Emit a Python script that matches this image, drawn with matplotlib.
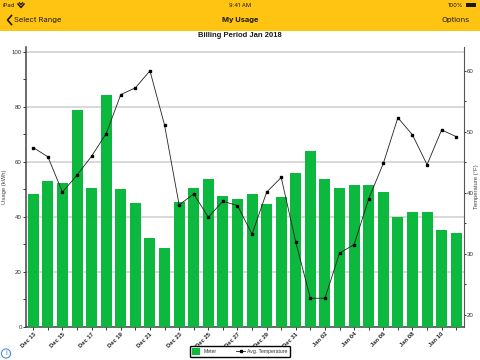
import matplotlib
matplotlib.use('Agg')
import matplotlib.pyplot as plt
from matplotlib.patches import Rectangle

plt.rcParams['font.family'] = ['Liberation Sans', 'DejaVu Sans']

# values
days = ['Dec 13', 'Dec 14', 'Dec 15', 'Dec 16', 'Dec 17', 'Dec 18', 'Dec 19', 'Dec 20', 'Dec 21', 'Dec 22',
        'Dec 23', 'Dec 24', 'Dec 25', 'Dec 26', 'Dec 27', 'Dec 28', 'Dec 29', 'Dec 30', 'Dec 31', 'Jan 01',
        'Jan 02', 'Jan 03', 'Jan 04', 'Jan 05', 'Jan 06', 'Jan 07', 'Jan 08', 'Jan 09', 'Jan 10', 'Jan 11']
usage = [48.2, 53.0, 52.3, 79.0, 50.5, 84.2, 50.1, 44.9, 32.2, 28.6,
         45.5, 50.4, 53.6, 47.6, 46.6, 48.3, 44.7, 47.1, 56.1, 64.1,
         53.8, 50.4, 51.5, 51.7, 49.1, 39.9, 41.9, 41.8, 35.1, 34.2]
temperature = [47.4, 45.9, 40.1, 42.9, 46.0, 49.7, 56.1, 57.2, 60.0, 51.1,
               38.0, 39.8, 36.0, 38.6, 37.9, 33.2, 40.1, 42.5, 31.9, 22.7,
               22.7, 30.1, 31.5, 39.0, 44.8, 52.3, 49.5, 44.6, 50.3, 49.2]
usage_ticks = [0, 20, 40, 60, 80, 100]
temp_ticks = [20, 30, 40, 50, 60]

W, H = 480, 360
fig = plt.figure(figsize=(W / 100, H / 100), dpi=100)

def px(x, y):
    # pixel position from the top left, as figure fraction
    return x / W, 1 - y / H

# header bar
fig.add_artist(Rectangle((0, 1 - 30.5 / H), 1, 30.5 / H, transform=fig.transFigure, color='#FFC312', lw=0))
hdr = dict(family=['Inter', 'DejaVu Sans'], color='#1c1a10', va='center')
fig.text(*px(3, 5.2), 'iPad', fontsize=4.3, **hdr)
fig.text(*px(240, 5.2), '9:41 AM', fontsize=4.2, ha='center', **hdr)
fig.text(*px(463, 5.2), '100%', fontsize=4.3, ha='right', **hdr)
fig.text(*px(14.5, 20), 'Select Range', fontsize=5.5, **hdr)
fig.text(*px(240, 20), 'My Usage', fontsize=5.4, ha='center', fontweight='bold', **hdr)
fig.text(*px(470, 20), 'Options', fontsize=5.5, ha='right', **hdr)
# back chevron, wifi mark, battery (pixels, y flipped)
fig.add_artist(plt.Line2D([11.5, 7.5, 11.5], [H - 15.5, H - 20, H - 24.5], color='#1c1a10', lw=1.2, transform=None))
fig.add_artist(plt.Line2D([18, 21, 24], [H - 4, H - 7.5, H - 4], color='#1c1a10', lw=1.1, transform=None))
fig.add_artist(plt.Line2D([19.5, 21, 22.5], [H - 2.8, H - 4.5, H - 2.8], color='#1c1a10', lw=0.9, transform=None))
fig.add_artist(Rectangle(px(465.5, 6.7), 10 / W, 3.4 / H, transform=fig.transFigure, color='#1c1a10', lw=0))

fig.text(*px(240, 35.5), 'Billing Period Jan 2018', fontsize=5.5, fontweight='bold', ha='center', va='center',
         color='#1a1a1a')

# plot area from spines: x 26 to 463.5, y 47 to 326.7
ax = fig.add_axes([26 / W, 1 - 326.7 / H, 437.5 / W, 279.7 / H])
x = list(range(len(days)))
bars = ax.bar(x, usage, width=0.75, color='#05B637', alpha=0.97, zorder=3, label='Meter')
ax.set_xlim(-0.5, 29.5)
ax.set_ylim(0, 101.8)
ax.set_yticks(usage_ticks)
ax.set_yticks(range(10, 100, 20), minor=True)
ax.grid(axis='y', which='major', color='#d6d6d6', lw=1.3, zorder=0)
ax.set_axisbelow(True)
ax.set_xticks(x[::2])
ax.set_xticklabels(days[::2], rotation=45, ha='right', rotation_mode='anchor', fontsize=4.2,
                   fontweight='bold', color='#222222')
ax.set_xticks(x[1::2], minor=True)
ax.tick_params(axis='x', which='both', length=2, width=0.7, pad=1.5, color='#333333')
ax.tick_params(axis='y', which='both', length=2, width=0.7, pad=1, labelsize=4.4, color='#333333',
               labelcolor='#333333')
ax.set_ylabel('Usage (kWh)', fontsize=4.2, color='#444444')
ax.yaxis.set_label_coords(-18.5 / 437.5, 0.5)
ax.spines['top'].set_visible(False)
ax.spines['right'].set_visible(False)
ax.spines['left'].set_linewidth(1.1)
ax.spines['left'].set_color('#444444')
ax.spines['bottom'].set_linewidth(1.1)
ax.spines['bottom'].set_color('#444444')

ax2 = ax.twinx()
line, = ax2.plot(x, temperature, color='#222222', lw=0.6, marker='s', ms=2, mfc='black', mec='black',
                 label='Avg. Temperature', zorder=5)
ax2.set_ylim(18.03, 63.9)
ax2.set_yticks(temp_ticks)
ax2.set_yticks(range(25, 60, 10), minor=True)
ax2.tick_params(axis='y', which='both', length=1.5, width=0.7, pad=1, labelsize=4.4, color='#333333',
                labelcolor='#333333')
ax2.set_ylabel('Temperature (°F)', fontsize=4.2, color='#444444')
ax2.yaxis.set_label_coords(1 + 10 / 437.5, 0.5)
ax2.spines['top'].set_visible(False)
ax2.spines['left'].set_visible(False)
ax2.spines['bottom'].set_visible(False)
ax2.spines['right'].set_linewidth(0.8)
ax2.spines['right'].set_color('#555555')

leg = fig.legend([bars, line], ['Meter', 'Avg. Temperature'], ncol=2, loc='center',
                 bbox_to_anchor=px(240, 351.8), fontsize=3.7, frameon=True, fancybox=True,
                 edgecolor='black', framealpha=1, borderpad=0.45, borderaxespad=0, handlelength=1.6,
                 handleheight=1.6, columnspacing=3.9, handletextpad=0.55)
leg.get_frame().set_linewidth(1.0)
for t in leg.get_texts():
    t.set_color('#333333')

# info icon, bottom left
fig.add_artist(plt.Circle((6, 6.5), 4.6, transform=None, fill=False, ec='#3C7FD0', lw=0.7))
fig.text(*px(6, 353.5), 'i', fontsize=5.5, color='#3C7FD0', ha='center', va='center')

fig.savefig('out.png', dpi=100)
